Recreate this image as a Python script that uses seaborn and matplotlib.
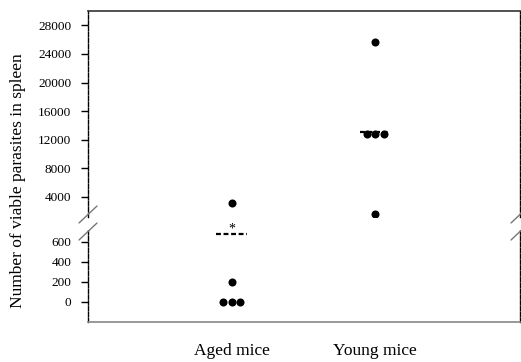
import numpy as np
import pandas as pd
import matplotlib
matplotlib.use("Agg")
import matplotlib.pyplot as plt
from matplotlib.lines import Line2D
import seaborn as sns

# ---- data ----
groups = ["Aged mice", "Young mice"]
aged_values = [3200, 200, 0, 0, 0]
young_values = [25600, 12800, 12800, 12800, 1600]
upper_ticks = [4000, 8000, 12000, 16000, 20000, 24000, 28000]
lower_ticks = [0, 200, 400, 600]
ylabel = "Number of viable parasites in spleen"
sig_mark = "*"

df = pd.DataFrame({
    "group": [groups[0]] * len(aged_values) + [groups[1]] * len(young_values),
    "value": aged_values + young_values,
})
means = df.groupby("group", sort=False)["value"].mean().reindex(groups)

sns.set_theme(style="white")
plt.rcParams["font.family"] = ["Liberation Serif", "DejaVu Serif"]

W, H = 521, 362
fig = plt.figure(figsize=(W / 100, H / 100), dpi=100)
left_px, right_px = 88, 520
ax_top = fig.add_axes([left_px / W, 1 - 217 / H, (right_px - left_px) / W, (217 - 11) / H])
ax_bot = fig.add_axes([left_px / W, 1 - 322 / H, (right_px - left_px) / W, (322 - 230) / H])

for ax in (ax_top, ax_bot):
    sns.swarmplot(data=df, x="group", y="value", order=groups, color="black",
                  size=5.8, linewidth=0, ax=ax)
    ax.hlines(means.values, np.arange(len(groups)) - 0.105, np.arange(len(groups)) + 0.105,
              colors="black", linestyles=(0, (2.2, 1.2)), linewidth=1.6, zorder=1)
    ax.set_xlim(-1, 2.01)
    ax.set_xlabel("")
    ax.set_ylabel("")
    ax.set_facecolor("white")
    for side in ("left", "right"):
        ax.spines[side].set_visible(True)
        ax.spines[side].set_color("black")
        ax.spines[side].set_linewidth(1.0)
        ax.spines[side].set_linestyle((0, (3, 1.2)))
    ax.tick_params(axis="y", which="both", left=True, length=5, width=1, color="black",
                   labelsize=9.5, pad=7, labelcolor="black")

ax_top.set_ylim(1200, 30000)
ax_top.set_yticks(upper_ticks)
ax_top.set_yticklabels([str(t) for t in upper_ticks])
ax_top.spines["bottom"].set_visible(False)
ax_top.spines["top"].set_color("#333333")
ax_top.spines["top"].set_linewidth(1.2)
ax_top.tick_params(axis="x", bottom=False, labelbottom=False)

ax_bot.set_ylim(-200, 720)
ax_bot.set_yticks(lower_ticks)
ax_bot.set_yticklabels([str(t) for t in lower_ticks])
ax_bot.spines["top"].set_visible(False)
ax_bot.spines["bottom"].set_color("#888888")
ax_bot.spines["bottom"].set_linewidth(1.2)
ax_bot.tick_params(axis="x", bottom=False, labelsize=12.5, pad=9, labelcolor="black")

# significance mark above the aged mean line
ax_bot.annotate(sig_mark, xy=(0, means.iloc[0]), xytext=(0, -1), textcoords="offset points",
                ha="center", va="bottom", fontsize=10, color="black", annotation_clip=False)

# axis-break marks
for x_px in (left_px, right_px):
    for y_px in (223, 240):
        fig.add_artist(Line2D([(x_px - 9) / W, (x_px + 9) / W],
                              [1 - y_px / H, 1 - (y_px - 17) / H],
                              color="#777777", linewidth=1.0))

fig.text(18 / W, 1 - 181 / H, ylabel, rotation=90, ha="center", va="center",
         fontsize=12.5, color="black")

fig.savefig("out.png", dpi=100)
